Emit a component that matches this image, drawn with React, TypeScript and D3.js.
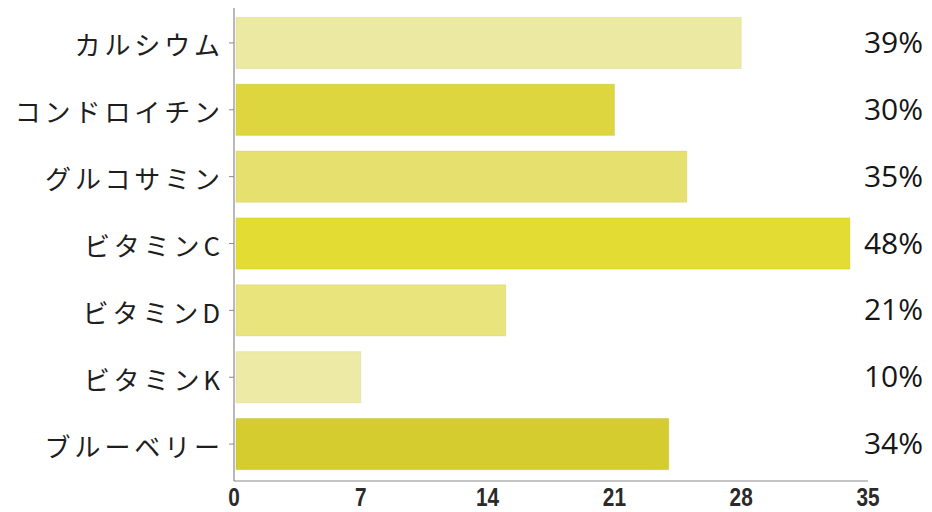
import React from "react";
import * as d3 from "d3";

const categories = ["カルシウム", "コンドロイチン", "グルコサミン", "ビタミンC", "ビタミンD", "ビタミンK", "ブルーベリー"];
const counts = [28, 21, 25, 34, 15, 7, 24];
const percentLabels = ["39%", "30%", "35%", "48%", "21%", "10%", "34%"];
const barColors = ["#ece9a2", "#ddd63e", "#e6e06e", "#e3dc32", "#e9e57c", "#eceaa4", "#d5cd30"];
const xTicks = [0, 7, 14, 21, 28, 35];

const W = 932;
const H = 512;

export default function App() {
  const x = d3.scaleLinear().domain([0, 35]).range([234, 868]);
  const y = d3
    .scaleBand<string>()
    .domain(categories)
    .range([10, 477])
    .paddingInner(0.235)
    .paddingOuter(0.11);
  const axisY = 481;

  return (
    <svg
      width={W}
      height={H}
      style={{ position: "absolute", left: 0, top: 0, background: "#fff" }}
    >
      <rect x={0} y={0} width={W} height={H} fill="#fff" />
      {categories.map((c, i) => (
        <rect
          key={c}
          x={x(0) + 2}
          y={y(c)!}
          width={x(counts[i]) - x(0) - 2}
          height={y.bandwidth()}
          fill={barColors[i]}
          stroke={d3.color(barColors[i])!.darker(0.4).formatHex()}
          strokeOpacity={0.35}
          strokeWidth={1}
        />
      ))}
      {/* y axis */}
      <line x1={x(0)} x2={x(0)} y1={8} y2={axisY} stroke="#8a8a8a" strokeWidth={1.2} />
      {categories.map((c) => {
        const cy = y(c)! + y.bandwidth() / 2;
        return (
          <g key={"t" + c}>
            <line x1={x(0) - 5} x2={x(0)} y1={cy} y2={cy} stroke="#8a8a8a" strokeWidth={1} />
            <text
              x={224}
              y={cy + 1}
              textAnchor="end"
              dominantBaseline="central"
              fontFamily="'Noto Sans CJK JP', 'Noto Sans', sans-serif"
              fontSize={26}
              letterSpacing={3.9}
              fill="#1e1e1e"
            >
              {c}
            </text>
          </g>
        );
      })}
      {/* x axis */}
      <line x1={x(0)} x2={x(35)} y1={axisY} y2={axisY} stroke="#8a8a8a" strokeWidth={1.2} />
      {xTicks.map((t) => (
        <text
          key={"x" + t}
          x={x(t)}
          y={506}
          textAnchor="middle"
          fontFamily="'Liberation Sans', Arial, sans-serif"
          fontWeight="bold"
          fontSize={26}
          fill="#2a2a2a"
          transform={`translate(${x(t)},0) scale(0.8,1) translate(${-x(t)},0)`}
        >
          {t}
        </text>
      ))}
      {/* percent labels */}
      {categories.map((c, i) => (
        <text
          key={"p" + c}
          x={923}
          y={y(c)! + y.bandwidth() / 2 + 10}
          textAnchor="end"
          fontFamily="'Open Sans', 'Noto Sans', sans-serif"
          fontWeight={500}
          fontSize={30}
          fill="#161616"
        >
          {percentLabels[i]}
        </text>
      ))}
    </svg>
  );
}
